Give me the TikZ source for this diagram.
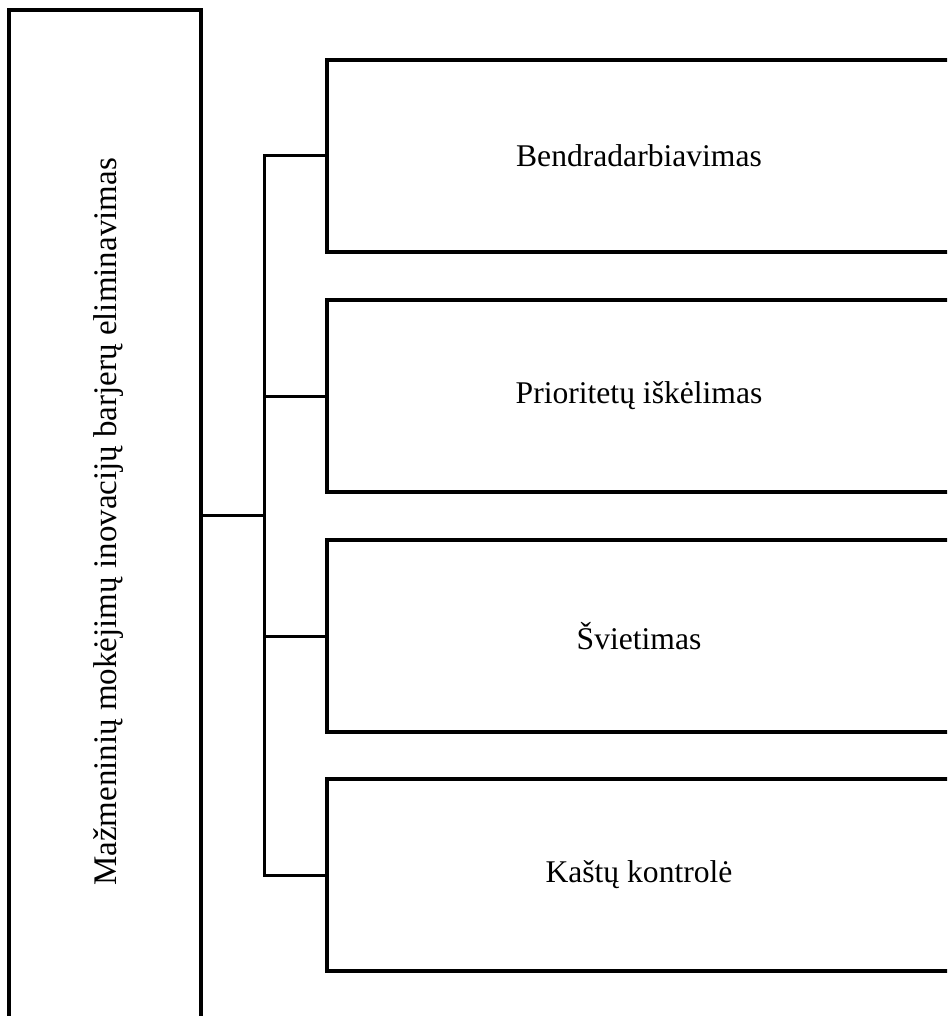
\documentclass[tikz,border=0pt]{standalone}
\usepackage{fontspec}
\setmainfont{Liberation Serif}
\begin{document}
\begin{tikzpicture}[x=1pt,y=-1pt,
  box/.style={draw, line width=3.2pt, inner sep=0pt},
  link/.style={draw, line width=3pt},
  txt/.style={font=\fontsize{31.6}{36}\selectfont}]
\useasboundingbox (0,0) rectangle (947,1016);
\clip (0,0) rectangle (947,1016);
% left column box, running past the lower edge
\node[box, minimum width=192pt, minimum height=1030pt] (main) at (105,525) {};
\node[font=\fontsize{33}{38}\selectfont, rotate=90] (maintext) at (109,522) {Mažmeninių mokėjimų inovacijų barjerų eliminavimas};
% right-hand boxes, running past the right edge
\node[box, txt, minimum width=624pt, minimum height=192pt] (b1) at (639,156) {Bendradarbiavimas};
\node[box, txt, minimum width=624pt, minimum height=192pt] (b2) at (639,396) {Prioritetų iškėlimas};
\node[box, txt, minimum width=624pt, minimum height=192pt] (b3) at (639,636) {Švietimas};
\node[box, txt, minimum width=624pt, minimum height=192pt] (b4) at (639,875) {Kaštų kontrolė};
% tree connectors
\coordinate (trunk) at (264,515);
\draw[link] (main.east |- trunk) -- (trunk);
\draw[link] (b1.west) -| (trunk |- b4.west) -- (b4.west);
\draw[link] (trunk |- b2.west) -- (b2.west);
\draw[link] (trunk |- b3.west) -- (b3.west);
\end{tikzpicture}
\end{document}
